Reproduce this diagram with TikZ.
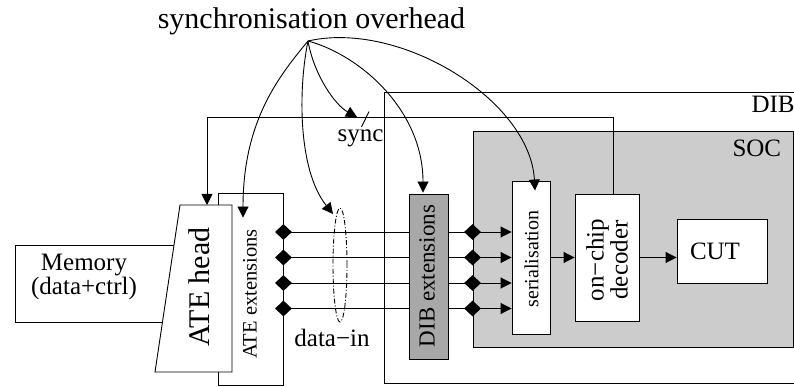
\documentclass[tikz,border=0pt]{standalone}
\usepackage{fontspec}
\setmainfont{Liberation Serif}
\usetikzlibrary{arrows.meta,shapes.geometric,calc}
\definecolor{socgray}{gray}{0.8}
\definecolor{dibgray}{gray}{0.66}
\begin{document}
\begin{tikzpicture}[x=1pt,y=-1pt,
  box/.style={draw,line width=0.9pt,inner sep=0pt,rectangle},
  conn/.style={line width=0.9pt},
  arr/.style={conn,-{Triangle[length=11pt,width=11pt]}},
  dmd/.style={diamond,fill=black,inner sep=0pt,minimum width=17pt,minimum height=16pt},
  txt/.style={font=\fontsize{25}{24}\selectfont}]
\clip (0,0) rectangle (794,387);
% title
\node[font=\fontsize{30}{32}\selectfont,anchor=base] (title) at (311.5,29) {synchronisation overhead};
\coordinate (src) at (308,41);
% DIB board
\node[box,minimum width=416pt,minimum height=291pt] (dib) at (592,237.5) {};
\node[txt,anchor=base west] (diblabel) at (748,113) {DIB};
% SOC
\node[box,fill=socgray,minimum width=320pt,minimum height=216pt] (soc) at (633,239) {};
\node[txt,anchor=base west] (soclabel) at (729,157) {SOC};
% memory
\node[box,minimum width=160pt,minimum height=77pt] (memory) at (95,283.5) {};
\node[txt,align=center] (memtext) at (84,277) {Memory\\(data+ctrl)};
% ATE extensions
\node[box,fill=white,minimum width=65pt,minimum height=192pt] (ateext) at (250.5,289) {};
\node[rotate=90,font=\fontsize{20.5}{22}\selectfont] (ateexttext) at (250,294) {ATE extensions};
% ATE head
\draw[conn,fill=white] (180,205) -- (232,205) -- (232,372) -- (155,372) -- cycle;
\coordinate (ateheadtop) at (207,205);
\node[rotate=90,font=\fontsize{30}{32}\selectfont] (atehead) at (199,287) {ATE head};
% DIB extensions
\node[box,fill=dibgray,minimum width=39pt,minimum height=165pt] (dibext) at (428.5,276.5) {};
\node[rotate=90,font=\fontsize{23}{24}\selectfont] (dibexttext) at (427,276) {DIB extensions};
% serialisation
\node[box,fill=white,minimum width=38pt,minimum height=153pt] (serial) at (531,257.5) {};
\node[rotate=90,font=\fontsize{20}{22}\selectfont] (serialtext) at (531.5,259) {serialisation};
% decoder
\node[box,fill=white,minimum width=64pt,minimum height=127pt] (decoder) at (607,257.5) {};
\node[rotate=90,font=\fontsize{25}{24}\selectfont,align=center] (decodertext) at (607,260) {on−chip\\decoder};
% CUT
\node[box,fill=white,minimum width=90pt,minimum height=64pt] (cut) at (722,251) {};
\node[txt] (cuttext) at (715,251) {CUT};
% data lines
\foreach \i/\y in {1/232,2/257.5,3/283,4/308.5} {
  \node[dmd] (a\i) at (ateext.east |- 0,\y) {};
  \node[dmd] (b\i) at (soc.west |- 0,\y) {};
  \draw[conn] (a\i.center) -- (dibext.west |- a\i);
  \draw[conn] (dibext.east |- a\i) -- (b\i.center);
  \draw[arr] (b\i.center) -- (serial.west |- b\i);
}
\draw[arr] (serial.east |- decoder.east) -- (decoder.east -| decoder.west);
\draw[arr] (decoder.east) -- (cut.west |- decoder.east);
% data-in ellipse
\node[draw,ellipse,line width=0.9pt,dash pattern=on 5pt off 2pt on 1pt off 2pt,minimum width=14pt,minimum height=114pt,inner sep=0pt] (datain) at (340,265) {};
\node[txt] (dataintext) at (332,338) {data−in};
% sync
\coordinate (syncturn) at (613,117);
\draw[arr] ($(decoder.north)+(6,0)$) -- (syncturn) -| (ateheadtop);
\draw[conn] (361.5,127) -- (369,111.5);
\node[txt,anchor=base west] (synctext) at (334,141.5) {sync};
% overhead curves
\coordinate (ateextin) at ($(ateext.north)+(-7.5,25)$);
\coordinate (ellin) at (333,214);
\coordinate (syncin) at (357,117);
\coordinate (dibextin) at ($(dibext.north)+(-5.5,-1)$);
\coordinate (serialin) at ($(serial.north)+(4,10)$);
\draw[arr] (src) .. controls (280,75) and (243,120) .. (ateextin);
\draw[arr] (src) .. controls (298,90) and (298,170) .. (ellin);
\draw[arr] (src) .. controls (314,75) and (335,105) .. (syncin);
\draw[arr] (src) .. controls (360,55) and (423,110) .. (dibextin);
\draw[arr] (src) .. controls (400,20) and (530,100) .. (serialin);
\end{tikzpicture}
\end{document}
